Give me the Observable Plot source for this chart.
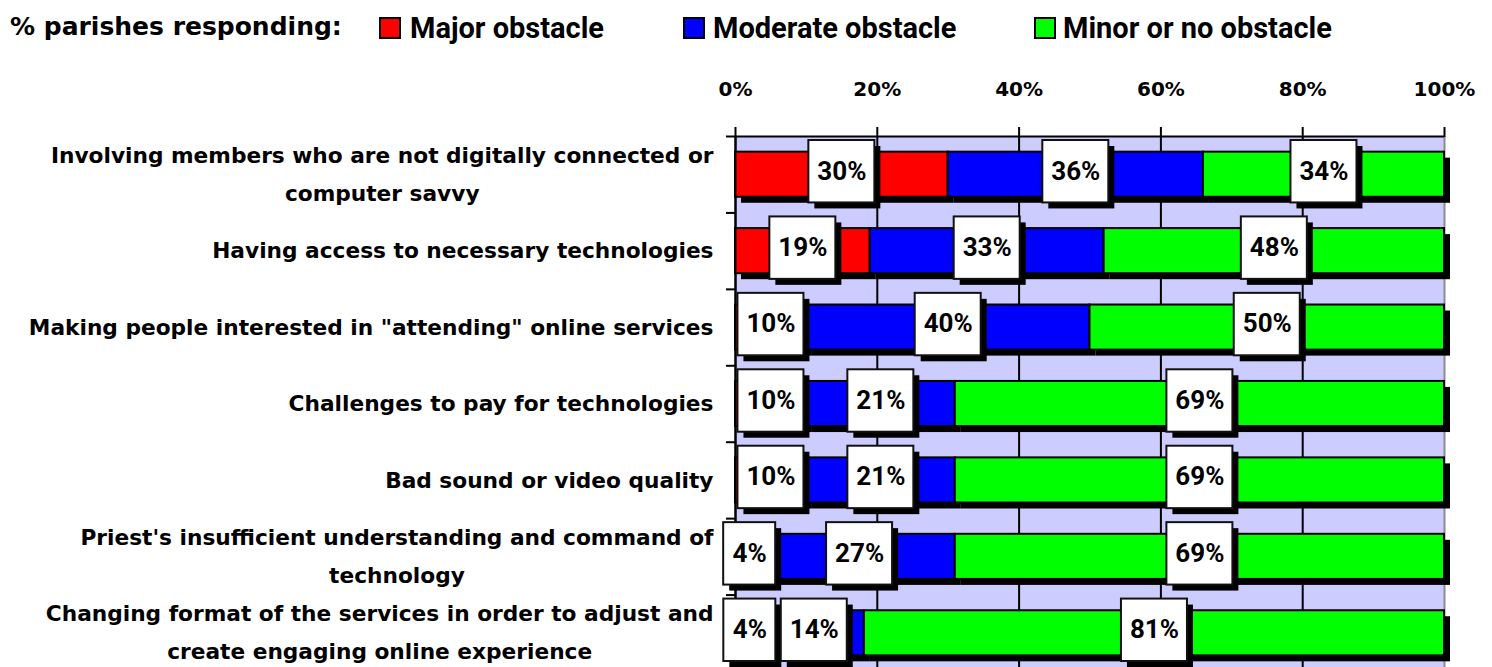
<!DOCTYPE html>
<html><head><meta charset="utf-8">
<script src="https://cdn.jsdelivr.net/npm/d3@7"></script>
<script src="https://cdn.jsdelivr.net/npm/@observablehq/plot@0.6"></script>
<style>
html,body{margin:0;padding:0;background:#fff;overflow:hidden}
#wrap{position:relative;width:1492px;height:667px;overflow:hidden}
#wrap svg{position:absolute;left:0;top:0}
</style></head><body><div id="wrap"></div>
<script>
const categories = [
  "Involving members who are not digitally connected or\ncomputer savvy",
  "Having access to necessary technologies",
  "Making people interested in \"attending\" online services",
  "Challenges to pay for technologies",
  "Bad sound or video quality",
  "Priest's insufficient understanding and command of\ntechnology",
  "Changing format of the services in order to adjust and\ncreate engaging online experience"
];
const seriesNames = ["Major obstacle", "Moderate obstacle", "Minor or no obstacle"];
const seriesColors = ["#ff0000", "#0000ff", "#00ff00"];
const major = [30, 19, 10, 10, 10, 4, 4];
const moderate = [36, 33, 40, 21, 21, 27, 14];
const minor = [34, 48, 50, 69, 69, 69, 81];
const xTicks = [0, 20, 40, 60, 80, 100];
const legendTitle = "% parishes responding:";

// build stacked (100%) segments from the arrays
const seriesValues = [major, moderate, minor];
const segments = [];
categories.forEach((c, i) => {
  const total = d3.sum(seriesValues, v => v[i]);
  let acc = 0;
  seriesValues.forEach((vals, s) => {
    const v = vals[i];
    const start = acc / total * 100, end = (acc + v) / total * 100;
    segments.push({row: i, series: seriesNames[s], start, end, mid: (start + end) / 2, label: v + "%"});
    acc += v;
  });
});

const pad = 0.205;
const boxOpts = (w) => ({x1: "mid", x2: "mid", y1: "row", y2: d => d.row + 1,
  insetTop: 4, insetBottom: 10, insetLeft: -w / 2, insetRight: -w / 2});
const shortLabels = segments.filter(d => d.label.length <= 2);
const longLabels = segments.filter(d => d.label.length > 2);

// category labels: multi-line blocks are right-aligned as a block, lines centred
const catFont = 21.7;
const ctx = document.createElement("canvas").getContext("2d");
ctx.font = `bold ${catFont}px "DejaVu Sans"`;
const catMarks = categories.map((c, i) => {
  const lines = c.split("\n");
  const w = d3.max(lines, l => ctx.measureText(l).width);
  const multi = lines.length > 1;
  return Plot.text([c], {
    frameAnchor: "left", y: () => i + 0.5, text: d => d,
    textAnchor: multi ? "middle" : "end", dx: multi ? -22 - w / 2 : -22, dy: -5,
    lineHeight: 1.75, fontSize: catFont, fill: "black"
  });
});

const plot = Plot.plot({
  width: 1492, height: 671,
  marginTop: 136, marginLeft: 735, marginRight: 48, marginBottom: 0,
  x: {domain: [0, 100]},
  y: {domain: [0, categories.length], reverse: true},
  color: {domain: seriesNames, range: seriesColors},
  style: {fontFamily: "DejaVu Sans", fontWeight: "bold", fontSize: "20px", color: "black", background: "white", overflow: "visible"},
  marks: [
    Plot.frame({fill: "#ccccff", stroke: "none"}),
    Plot.ruleX(xTicks.filter(d => d < 100), {stroke: "black", strokeWidth: 2}),
    Plot.ruleX(xTicks.filter(d => d === 100), {stroke: "#8c8c8c", strokeWidth: 2}),
    Plot.rect(segments, {x1: "start", x2: "end", y1: d => d.row + pad, y2: d => d.row + 1 - pad, fill: "black", dx: 6, dy: 6}),
    Plot.rect(segments, {x1: "start", x2: "end", y1: d => d.row + pad, y2: d => d.row + 1 - pad, fill: "series", stroke: "black", strokeWidth: 2}),
    Plot.ruleX(xTicks.filter(d => d === 0), {stroke: "black", strokeWidth: 2}),
    Plot.rect(shortLabels, {...boxOpts(52), fill: "black", dx: 6, dy: 6}),
    Plot.rect(longLabels, {...boxOpts(66), fill: "black", dx: 6, dy: 6}),
    Plot.rect(shortLabels, {...boxOpts(52), fill: "white", stroke: "#111", strokeWidth: 2}),
    Plot.rect(longLabels, {...boxOpts(66), fill: "white", stroke: "#111", strokeWidth: 2}),
    Plot.text(segments, {x: "mid", y: d => d.row + 0.5, text: "label", dy: -3.5, fontSize: 26, fontFamily: "Roboto", fontWeight: "bold", fill: "black"}),
    Plot.ruleY([0], {stroke: "black", strokeWidth: 2}),
    Plot.axisX({anchor: "top", ticks: xTicks, tickFormat: d => d + "%", tickSize: 10, tickPadding: 31, strokeWidth: 2, label: null, fontSize: 20}),
    Plot.axisY({ticks: d3.range(categories.length + 1), tickSize: 9, tickFormat: () => "", strokeWidth: 2, label: null}),
    ...catMarks
  ]
});

const wrap = document.getElementById("wrap");
wrap.append(plot);

// legend above the chart
const leg = d3.select(wrap).append("svg").attr("width", 1492).attr("height", 60);
leg.append("text").attr("x", 10).attr("y", 35).text(legendTitle)
  .attr("font-family", "DejaVu Sans").attr("font-weight", "bold").attr("font-size", 25);
const sqX = [380, 684, 1035], txX = [410, 713, 1063];
seriesNames.forEach((n, i) => {
  leg.append("rect").attr("x", sqX[i]).attr("y", 18).attr("width", 20).attr("height", 20)
    .attr("fill", seriesColors[i]).attr("stroke", "black").attr("stroke-width", 2);
  leg.append("text").attr("x", txX[i]).attr("y", 38).text(n)
    .attr("font-family", "Roboto").attr("font-weight", "bold").attr("font-size", 29);
});
</script>
</body></html>
